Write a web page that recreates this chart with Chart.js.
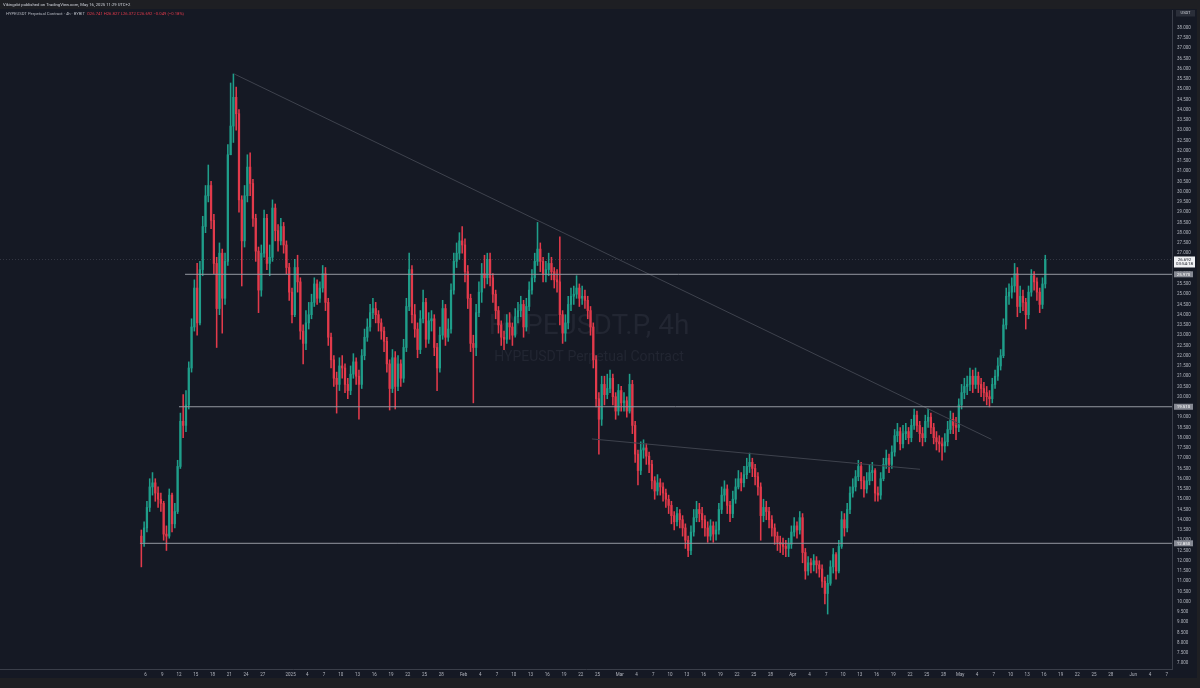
<!DOCTYPE html>
<html>
<head>
<meta charset="utf-8">
<script src="https://cdn.jsdelivr.net/npm/chart.js@4.4.1/dist/chart.umd.min.js"></script>
<style>
  html, body { margin: 0; padding: 0; background: #151924; overflow: hidden; }
  #wrap { position: relative; width: 1200px; height: 688px; }
  canvas { display: block; }
</style>
</head>
<body>
<div id="wrap"><canvas id="c" width="1200" height="688"></canvas></div>
<script>
// ---------------- DATA ----------------
const symbolTitle = 'HYPEUSDT.P, 4h';
const symbolDesc = 'HYPEUSDT Perpetual Contract';
const headerLine = 'Vikingxbt published on TradingView.com, May 16, 2025 11:29 UTC+2';
const legendName = 'HYPEUSDT Perpetual Contract \u00b7 4h \u00b7 BYBIT';
const legendValues = 'O26.741 H26.827 L26.372 C26.692 \u22120.049 (\u22120.18%)';

const originDate = '2024-12-06T00:00:00Z';   // x = days after this date
const firstCandle = '2024-12-05T00:00:00Z';  // open time of first candle
const candleHours = 12;
const firstOpen = 13.2;

const closes = [
  12.9,13.6, 14.6,15.6, 15.8,15.3, 15.0,14.8, 13.3,13.2, 15.2,13.8, 14.4,16.6, 18.8,18.6, 19.6,21.4, 23.4,25.3,
  23.6,26.2, 28.3,29.8, 30.3,28.6, 26.5,24.3, 27.0,24.8, 26.6,31.8, 33.2,34.6, 33.8,29.6, 27.6,29.8, 31.2,30.4,
  28.7,27.1, 25.2,27.0, 28.7,26.5, 26.8,29.2, 28.1,27.6, 28.3,27.4, 26.3,25.1, 24.0,26.3, 25.6,23.2, 22.6,23.6,
  24.0,24.6, 25.5,24.8, 25.3,26.0, 24.6,22.9, 21.8,20.9, 20.6,21.5, 21.4,20.6, 20.3,21.1, 21.7,21.0, 20.6,22.0,
  22.9,23.4, 24.1,24.3, 24.0,23.6, 23.2,22.7, 21.6,20.4, 21.9,20.5, 21.6,20.9, 22.4,24.4, 26.2,24.0, 23.3,22.3,
  23.8,24.6, 22.8,23.7, 23.8,22.4, 21.4,23.0, 24.3,22.9, 23.3,25.2, 26.6,27.0, 27.6,27.4, 26.1,24.8, 22.6,22.4,
  24.1,25.1, 26.0,25.8, 26.7,25.8, 25.0,24.2, 23.5,22.9, 22.8,23.6, 23.4,23.0, 23.9,24.2, 24.5,23.4, 24.4,25.2,
  25.8,26.6, 27.2,26.6, 26.0,26.2, 26.5,26.1, 25.7,25.6, 24.0,23.1, 23.6,24.5, 24.9,25.0, 25.3,24.8, 24.9,24.7,
  24.2,23.4, 21.8,19.9, 18.9,20.6, 20.1,20.4, 20.9,20.0, 19.3,20.3, 19.7,19.8, 19.3,20.6, 18.6,17.2, 16.4,17.4,
  17.5,17.1, 16.7,15.9, 15.4,15.8, 15.6,15.3, 15.0,14.7, 14.2,13.9, 14.3,14.0, 13.6,13.0, 12.5,13.4, 14.1,14.5,
  14.3,14.0, 13.6,13.2, 13.7,13.3, 13.5,14.5, 15.2,15.5, 14.7,14.3, 15.0,15.6, 16.0,15.8, 16.2,16.6, 16.8,16.5,
  16.1,15.6, 14.2,14.6, 14.4,14.0, 13.6,13.2, 12.9,12.8, 12.7,12.6, 12.8,13.4, 13.7,13.5, 14.1,12.4, 11.5,11.9,
  11.8,12.0, 11.8,11.6, 11.0,10.4, 10.9,11.7, 12.3,11.5, 12.7,14.0, 13.6,14.5, 15.3,15.6, 16.1,16.6, 15.9,15.5,
  15.9,16.3, 16.4,15.3, 15.2,16.0, 16.7,17.0, 16.7,17.3, 18.1,18.3, 17.7,18.2, 18.3,18.0, 18.6,19.1, 18.6,18.2,
  18.0,18.8, 19.0,18.5, 18.0,17.8, 17.7,17.6, 17.8,18.4, 18.9,18.6, 18.5,19.6, 20.2,20.5, 20.6,21.0, 20.6,21.0,
  20.6,20.4, 20.2,20.0, 19.9,20.6, 21.0,21.5, 22.0,23.5, 24.9,25.1, 25.4,26.0, 24.4,24.9, 24.6,24.0, 25.1,25.9,
  25.6,25.1, 24.5,25.5, 26.692
];
const highs = [
  13.5,13.9, 14.9,16.0, 16.3,16.0, 15.6,15.3, 14.9,13.7, 15.5,15.3, 14.8,16.9, 19.2,20.1, 20.3,21.7, 23.8,25.7,
  26.5,26.6, 28.8,30.3, 31.3,30.5, 28.9,26.8, 27.5,27.2, 27.0,32.3, 35.3,35.74, 35.1,34.0, 29.8,30.3, 31.8,31.9,
  30.6,28.9, 27.3,27.4, 29.1,28.9, 27.4,29.6, 29.4,28.4, 28.7,28.5, 27.6,26.5, 25.3,26.7, 26.9,25.8, 23.5,24.2,
  24.6,25.0, 25.8,25.7, 25.6,26.4, 26.3,24.8, 23.1,22.0, 21.2,21.9, 22.0,21.6, 20.9,21.5, 22.1,21.9, 21.3,22.3,
  23.3,23.8, 24.5,24.8, 24.6,24.2, 23.8,23.4, 22.9,21.8, 22.3,22.2, 22.0,21.8, 22.8,24.8, 27.0,26.4, 24.5,23.6,
  24.2,25.2, 24.8,24.1, 24.2,24.0, 22.6,23.4, 24.7,24.5, 23.8,25.5, 27.0,27.5, 28.0,28.3, 27.7,26.4, 25.0,23.0,
  24.5,25.6, 26.5,26.9, 27.0,27.0, 26.0,25.2, 24.4,23.7, 23.2,24.0, 24.1,23.6, 24.3,24.6, 24.9,24.7, 24.8,25.6,
  26.2,27.0, 28.5,27.5, 26.8,26.6, 27.0,26.8, 26.3,26.2, 27.8,24.2, 24.0,24.9, 25.3,25.4, 25.9,25.5, 25.4,25.2,
  24.9,24.4, 23.6,22.0, 20.2,21.0, 21.0,21.1, 21.3,21.1, 20.2,20.6, 20.5,20.2, 20.0,21.1, 20.8,18.8, 17.4,17.8,
  17.9,17.7, 17.3,16.9, 16.1,16.2, 16.0,15.8, 15.5,15.2, 14.9,14.4, 14.6,14.5, 14.2,13.8, 13.2,13.7, 14.5,14.9,
  14.8,14.6, 14.2,13.9, 14.0,13.9, 13.9,14.8, 15.6,15.9, 15.7,14.9, 15.4,16.0, 16.4,16.3, 16.6,17.0, 17.25,17.0,
  16.7,16.3, 15.8,15.0, 14.9,14.6, 14.2,13.8, 13.4,13.2, 13.1,13.0, 13.1,13.7, 14.1,13.9, 14.4,14.3, 12.6,12.2,
  12.1,12.3, 12.2,12.0, 11.8,11.2, 11.3,12.0, 12.6,12.4, 13.0,14.4, 14.3,14.8, 15.6,16.0, 16.4,16.9, 16.8,16.1,
  16.3,16.7, 16.8,16.5, 15.6,16.3, 17.0,17.4, 17.2,17.6, 18.4,18.7, 18.5,18.6, 18.7,18.5, 18.9,19.4, 19.3,18.8,
  18.5,19.1, 19.4,19.2, 18.7,18.3, 18.1,18.0, 18.2,18.8, 19.3,19.2, 19.0,19.9, 20.6,20.9, 21.0,21.4, 21.3,21.4,
  21.2,20.9, 20.7,20.5, 20.3,20.9, 21.3,21.9, 22.3,23.8, 25.3,25.5, 25.8,26.5, 26.3,25.4, 25.2,24.8, 25.4,26.2,
  26.1,25.8, 25.3,25.8, 26.9
];
const lows = [
  11.7,12.7, 13.4,14.4, 15.2,14.9, 14.6,14.4, 13.0,12.5, 13.1,13.4, 13.6,14.3, 16.5,18.0, 18.3,19.4, 21.2,23.2,
  23.0,23.5, 25.9,28.0, 29.5,28.2, 26.0,22.4, 24.0,23.1, 24.5,26.4, 32.3,32.4, 33.0,29.0, 25.4,27.3, 29.5,29.8,
  28.3,26.6, 24.1,24.9, 26.8,26.2, 25.9,26.6, 27.6,27.1, 27.4,27.0, 26.0,24.7, 23.6,23.9, 25.1,22.8, 21.6,22.3,
  23.3,23.8, 24.4,24.5, 24.6,25.1, 24.2,22.5, 21.4,20.5, 19.2,20.3, 20.9,20.2, 19.9,20.1, 20.9,20.6, 18.9,20.4,
  21.8,22.7, 23.2,23.8, 23.6,23.2, 22.8,22.2, 21.2,19.35, 20.2,19.4, 20.3,20.5, 20.7,22.2, 24.2,23.6, 22.9,21.9,
  22.1,23.6, 22.4,22.6, 23.2,22.0, 20.3,21.2, 22.8,22.5, 22.7,23.1, 25.0,26.3, 26.7,27.0, 25.6,24.3, 22.2,19.7,
  22.0,23.9, 24.6,25.3, 25.5,25.4, 24.6,23.8, 23.1,22.5, 22.3,22.6, 22.8,22.5, 22.9,23.6, 23.9,22.9, 23.2,24.2,
  25.0,25.6, 26.4,26.1, 25.6,25.6, 25.9,25.7, 25.3,25.1, 23.5,22.6, 22.7,23.3, 24.2,24.5, 24.8,24.4, 24.5,24.3,
  23.8,23.0, 21.4,19.5, 17.2,18.6, 19.6,19.9, 20.2,19.6, 18.9,19.1, 19.3,19.3, 19.0,19.2, 18.2,16.8, 15.7,16.2,
  17.0,16.7, 16.3,15.5, 15.0,15.2, 15.2,14.9, 14.6,14.3, 13.8,13.5, 13.7,13.6, 13.2,12.6, 12.2,12.3, 13.2,13.9,
  13.9,13.6, 13.2,12.9, 13.0,12.9, 13.0,13.3, 14.3,14.9, 14.3,13.9, 14.1,14.8, 15.5,15.4, 15.6,16.0, 16.3,16.1,
  15.7,15.2, 13.0,13.9, 14.0,13.6, 13.2,12.8, 12.5,12.4, 12.3,12.2, 12.2,12.6, 13.2,13.1, 13.3,11.9, 11.1,11.3,
  11.4,11.5, 11.4,11.2, 10.7,9.9, 9.4,10.8, 11.4,11.1, 11.4,12.6, 13.2,13.4, 14.3,15.1, 15.4,15.9, 15.5,15.1,
  15.3,15.7, 15.9,14.9, 14.9,15.0, 15.9,16.5, 16.3,16.5, 17.1,17.8, 17.4,17.5, 17.9,17.7, 17.8,18.4, 18.3,17.8,
  17.6,17.8, 18.5,18.2, 17.7,17.4, 17.3,16.9, 17.3,17.6, 18.2,18.2, 17.9,18.3, 19.4,19.9, 20.1,20.3, 20.2,20.4,
  20.2,20.0, 19.8,19.6, 19.5,19.7, 20.4,20.8, 21.3,21.9, 23.3,24.5, 24.8,25.1, 23.9,24.1, 24.2,23.3, 23.8,24.9,
  25.2,24.7, 24.1,24.3, 25.3
];

// horizontal levels (price) and the date each one starts
const levelPrices = [25.97, 19.51, 12.85];
const levelStarts = ['2024-12-13T02:00:00Z', '2024-12-12T00:00:00Z', '2024-12-05T00:00:00Z'];
const levelLabels = ['25.970', '19.510', '12.850'];

// trend lines: [startDate, startPrice, endDate, endPrice]
const trendStartDates = ['2024-12-21T21:36:00Z', '2025-02-24T00:00:00Z'];
const trendStartPrices = [35.74, 17.94];
const trendEndDates = ['2025-05-06T14:24:00Z', '2025-04-23T19:12:00Z'];
const trendEndPrices = [17.92, 16.46];

// x-axis tick labels
const xTickDates = ['2024-12-06','2024-12-09','2024-12-12','2024-12-15','2024-12-18','2024-12-21','2024-12-24','2024-12-27',
  '2025-01-01','2025-01-04','2025-01-07','2025-01-10','2025-01-13','2025-01-16','2025-01-19','2025-01-22','2025-01-25','2025-01-28',
  '2025-02-01','2025-02-04','2025-02-07','2025-02-10','2025-02-13','2025-02-16','2025-02-19','2025-02-22','2025-02-25',
  '2025-03-01','2025-03-04','2025-03-07','2025-03-10','2025-03-13','2025-03-16','2025-03-19','2025-03-22','2025-03-25','2025-03-28',
  '2025-04-01','2025-04-04','2025-04-07','2025-04-10','2025-04-13','2025-04-16','2025-04-19','2025-04-22','2025-04-25','2025-04-28',
  '2025-05-01','2025-05-04','2025-05-07','2025-05-10','2025-05-13','2025-05-16','2025-05-19','2025-05-22','2025-05-25','2025-05-28',
  '2025-06-01','2025-06-04','2025-06-07'];
const xTickLabels = ['6','9','12','15','18','21','24','27',
  '2025','4','7','10','13','16','19','22','25','28',
  'Feb','4','7','10','13','16','19','22','25',
  'Mar','4','7','10','13','16','19','22','25','28',
  'Apr','4','7','10','13','16','19','22','25','28',
  'May','4','7','10','13','16','19','22','25','28',
  'Jun','4','7'];

// y-axis ticks every 0.5 from 7 to 38
const yTickValues = Array.from({length: 63}, (_, i) => 7 + i * 0.5);

const lastPriceLabel = '26.692';
const countdownLabel = '03:54:18';
const currencyLabel = 'USDT';

// ---------------- STYLE ----------------
const BG = '#151924';
const STRIP = '#1e1f23';
const UP = '#1f9e8a';
const DOWN = '#e23a4b';
const TEXT = '#b2b5be';
const AXIS_LINE = '#3a3e49';
const LEVEL = '#959882';
const TREND = '#3e424d';
const FONT = 'Roboto, "Noto Sans", sans-serif';

const X_MIN = -26.08, X_MAX = 183.96;
const Y_MIN = 6.72, Y_MAX = 38.86;

// ---------------- BUILD ----------------
const DAY = 86400000;
const origin = Date.parse(originDate);
const toDay = s => (Date.parse(s) - origin) / DAY;
const t0 = toDay(firstCandle);
const halfCandle = candleHours / 48;

const opens = closes.map((c, i) => i === 0 ? firstOpen : closes[i - 1]);
const candleX = closes.map((c, i) => t0 + i * candleHours / 24 + halfCandle);
const isUp = closes.map((c, i) => c >= opens[i]);

const wickData = closes.map((c, i) => ({
  x: candleX[i],
  y: [Math.min(lows[i], opens[i], c), Math.max(highs[i], opens[i], c)]
}));
const bodyData = closes.map((c, i) => ({ x: candleX[i], y: [opens[i], c] }));
const colorOf = ctx => isUp[ctx.dataIndex] ? UP : DOWN;

const datasets = [];
levelPrices.forEach((p, i) => {
  datasets.push({
    type: 'line', data: [{x: toDay(levelStarts[i]), y: p}, {x: X_MAX, y: p}],
    borderColor: '#9598a1', borderWidth: 1, pointRadius: 0, order: 0
  });
});
trendStartDates.forEach((d, i) => {
  datasets.push({
    type: 'line', data: [{x: toDay(d), y: trendStartPrices[i]}, {x: toDay(trendEndDates[i]), y: trendEndPrices[i]}],
    borderColor: TREND, borderWidth: 1, pointRadius: 0, order: 0
  });
});
datasets.push({
  type: 'line', data: [{x: X_MIN, y: closes[closes.length - 1]}, {x: X_MAX, y: closes[closes.length - 1]}],
  borderColor: 'rgba(150,153,162,0.25)', borderWidth: 1, borderDash: [1, 2], pointRadius: 0, order: 0
});
datasets.push({
  type: 'bar', data: wickData, backgroundColor: colorOf, barThickness: 0.9,
  grouped: false, borderWidth: 0, order: 3
});
datasets.push({
  type: 'bar', data: bodyData, backgroundColor: colorOf, barThickness: 1.6,
  grouped: false, borderWidth: 0, minBarLength: 0.8, order: 2
});

const decor = {
  id: 'decor',
  beforeDraw(chart) {
    const {ctx, width, height} = chart;
    ctx.save();
    ctx.fillStyle = BG;
    ctx.fillRect(0, 0, width, height);
    ctx.fillStyle = STRIP;
    ctx.fillRect(0, 0, width, 9);
    ctx.fillRect(0, 678, width, 10);
    ctx.fillRect(1197, 0, 3, height);
    ctx.restore();
  },
  beforeDatasetsDraw(chart) {
    const {ctx} = chart;
    ctx.save();
    ctx.fillStyle = '#222632';
    ctx.textAlign = 'center';
    ctx.textBaseline = 'middle';
    ctx.font = '28px ' + FONT;
    ctx.fillText(symbolTitle, 589, 327);
    ctx.font = '14px ' + FONT;
    ctx.fillText(symbolDesc, 589, 357);
    ctx.restore();
  },
  afterDraw(chart) {
    const {ctx} = chart;
    const ys = chart.scales.y;
    ctx.save();
    // header
    ctx.textBaseline = 'middle';
    ctx.textAlign = 'left';
    ctx.font = '4.2px ' + FONT;
    ctx.fillStyle = '#d1d4dc';
    ctx.fillText(headerLine, 3, 4.5);
    ctx.fillStyle = TEXT;
    ctx.fillText(legendName, 6, 14);
    const w = ctx.measureText(legendName + '  ').width;
    ctx.fillStyle = DOWN;
    ctx.fillText(legendValues, 6 + w, 14);

    // currency box
    ctx.fillStyle = '#2a2e39';
    ctx.fillRect(1176, 10, 19, 6.5);
    ctx.fillStyle = '#d1d4dc';
    ctx.textAlign = 'center';
    ctx.font = '4px ' + FONT;
    ctx.fillText(currencyLabel, 1185.5, 13.3);

    // level labels on the price axis
    ctx.font = '4.4px ' + FONT;
    levelPrices.forEach((p, i) => {
      const y = ys.getPixelForValue(p);
      ctx.fillStyle = '#868993';
      ctx.fillRect(1174, y - 3, 19, 6);
      ctx.fillStyle = '#ffffff';
      ctx.fillText(levelLabels[i], 1183.5, y + 0.2);
    });

    // last price label
    const yl = ys.getPixelForValue(closes[closes.length - 1]);
    ctx.fillStyle = '#f0f1f4';
    ctx.fillRect(1174, yl - 3, 21, 11);
    ctx.fillStyle = '#131722';
    ctx.fillText(lastPriceLabel, 1184.5, yl + 0.3);
    ctx.fillText(countdownLabel, 1184.5, yl + 4.8);
    ctx.restore();
  }
};

new Chart(document.getElementById('c'), {
  type: 'bar',
  data: { datasets },
  options: {
    responsive: false,
    animation: false,
    devicePixelRatio: 1,
    layout: { padding: { top: 10, bottom: 10, left: 0, right: 0 } },
    plugins: { legend: { display: false }, tooltip: { enabled: false } },
    scales: {
      x: {
        type: 'linear', min: X_MIN, max: X_MAX, offset: false,
        grid: { display: true, color: 'rgba(0,0,0,0)', drawTicks: false, offset: false },
        border: { display: true, color: AXIS_LINE, width: 1 },
        ticks: {
          color: TEXT, font: { family: FONT, size: 4.5 }, padding: 3,
          maxRotation: 0, autoSkip: false,
          callback: (v, i) => xTickLabels[i]
        },
        afterBuildTicks: s => { s.ticks = xTickDates.map(d => ({ value: toDay(d + 'T00:00:00Z') })); },
        afterFit: s => { s.height = 9; }
      },
      y: {
        type: 'linear', position: 'right', min: Y_MIN, max: Y_MAX,
        grid: { display: true, color: 'rgba(0,0,0,0)', drawTicks: false },
        border: { display: true, color: AXIS_LINE, width: 1 },
        ticks: {
          color: TEXT, font: { family: FONT, size: 4.5 }, padding: 5,
          crossAlign: 'near', autoSkip: false,
          callback: v => Number(v).toFixed(3)
        },
        afterBuildTicks: s => { s.ticks = yTickValues.map(v => ({ value: v })); },
        afterFit: s => { s.width = 28; }
      }
    }
  },
  plugins: [decor]
});
</script>
</body>
</html>
